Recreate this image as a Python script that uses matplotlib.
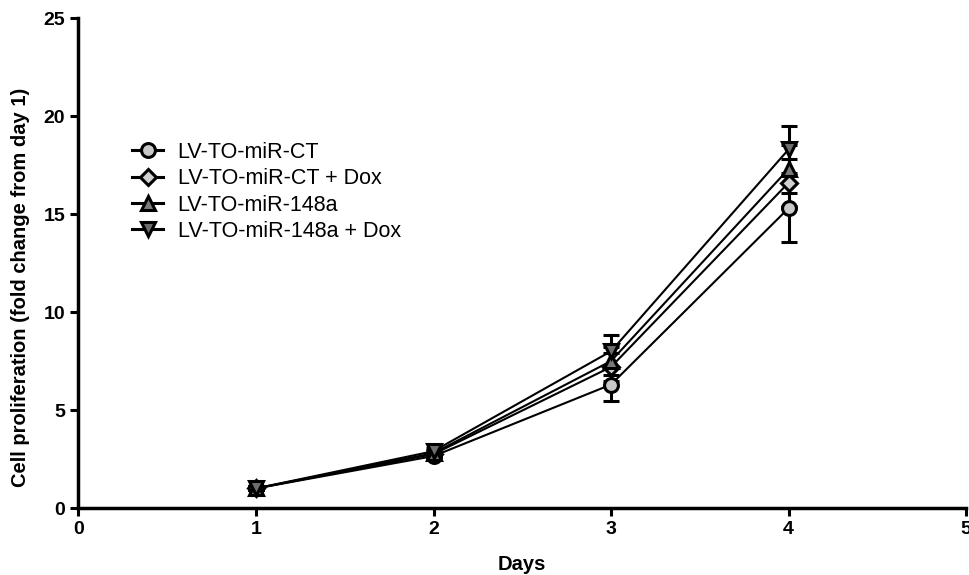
import matplotlib.pyplot as plt
from matplotlib.lines import Line2D

days = [1, 2, 3, 4]
labels = ["LV-TO-miR-CT", "LV-TO-miR-CT + Dox", "LV-TO-miR-148a", "LV-TO-miR-148a + Dox"]
ct = [1.0, 2.65, 6.3, 15.3]
ct_dox = [1.0, 2.75, 7.2, 16.6]
mir148 = [1.0, 2.8, 7.5, 17.3]
mir148_dox = [1.0, 2.9, 8.0, 18.3]
ct_err = [0.1, 0.15, 0.85, 1.7]
ct_dox_err = [0.1, 0.15, 0.7, 1.2]
mir148_err = [0.1, 0.15, 0.7, 1.2]
mir148_dox_err = [0.1, 0.15, 0.85, 1.2]

plt.rcParams["font.family"] = ["Liberation Sans", "DejaVu Sans"]

fig = plt.figure(figsize=(9.69, 5.75), dpi=100)
ax = fig.add_axes([0.081, 0.1165, 0.916, 0.852])

series = [
    (ct, ct_err, "o", "#c8c8c8"),
    (ct_dox, ct_dox_err, "D", "#d0d0d0"),
    (mir148, mir148_err, "^", "#7a7a7a"),
    (mir148_dox, mir148_dox_err, "v", "#6e6e6e"),
]
handles = []
for (vals, err, m, fc), lab in zip(series, labels):
    ms = 10 if m != "D" else 8
    ax.errorbar(days, vals, yerr=err, color="black", lw=1.5, marker=m,
                markersize=ms, markerfacecolor=fc,
                markeredgecolor="black", markeredgewidth=2.2,
                elinewidth=2.2, capsize=6, capthick=2.2)
    handles.append(Line2D([], [], color="black", lw=2.2, marker=m, markersize=ms,
                          markerfacecolor=fc, markeredgecolor="black",
                          markeredgewidth=2.2, label=lab))

ax.set_xlim(0, 5)
ax.set_ylim(0, 25)
ax.set_xticks([0, 1, 2, 3, 4, 5])
ax.set_yticks([0, 5, 10, 15, 20, 25])
for s in ["top", "right"]:
    ax.spines[s].set_visible(False)
for s in ["left", "bottom"]:
    ax.spines[s].set_linewidth(2.5)
ax.tick_params(direction="out", length=6, width=2.2, labelsize=14)
for t in ax.get_xticklabels() + ax.get_yticklabels():
    t.set_fontweight("bold")
ax.set_xlabel("Days", fontsize=14.5, fontweight="bold", labelpad=12)
ax.set_ylabel("Cell proliferation (fold change from day 1)", fontsize=14.5, fontweight="bold")
ax.yaxis.set_label_coords(-0.0546, 0.451)

leg = ax.legend(handles=handles, loc="upper left", bbox_to_anchor=(0.039, 0.787),
                frameon=False, fontsize=15.5, handlelength=1.4, labelspacing=0.25,
                handletextpad=0.7)

fig.savefig("out.png", dpi=100)
